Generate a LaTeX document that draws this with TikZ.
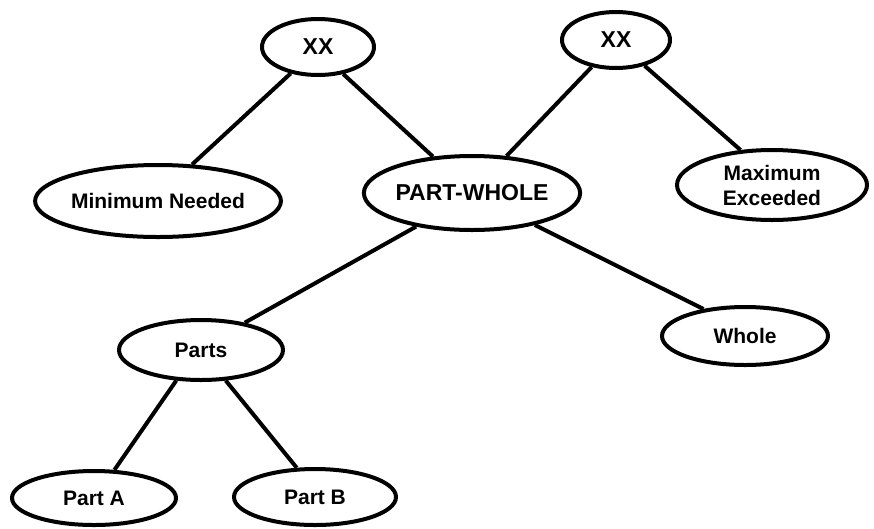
\documentclass[tikz,border=0pt]{standalone}
\usepackage{fontspec}
\setmainfont{Liberation Sans}
\usetikzlibrary{shapes.geometric}
\begin{document}
\begin{tikzpicture}[x=1pt,y=-1pt,
  oval/.style={ellipse,draw,line width=4pt,inner sep=0pt,
    font=\fontsize{21}{25}\selectfont\bfseries,align=center},
  big/.style={font=\fontsize{23}{27}\selectfont\bfseries},
  link/.style={line width=4pt}]
\useasboundingbox (0,0) rectangle (874,528);
\node[oval,big,minimum width=112pt,minimum height=56pt] (xxl) at (318,47) {XX};
\node[oval,big,minimum width=108pt,minimum height=56pt] (xxr) at (616,40) {XX};
\node[oval,minimum width=200pt,minimum height=72pt] (min) at (158,201) {Minimum Needed};
\node[oval,big,minimum width=214pt,minimum height=74pt] (pw) at (472,193) {PART-WHOLE};
\node[oval,minimum width=190pt,minimum height=70pt] (max) at (772,185) {Maximum\\Exceeded};
\node[oval,minimum width=164pt,minimum height=60pt] (parts) at (201,350) {Parts};
\node[oval,minimum width=166pt,minimum height=58pt] (whole) at (745,336) {Whole};
\node[oval,minimum width=164pt,minimum height=54pt] (pa) at (94,498) {Part A};
\node[oval,minimum width=162pt,minimum height=56pt] (pb) at (315,497) {Part B};
\draw[link] (xxl.224) -- (min.47);
\draw[link] (xxl.313) -- (pw.137);
\draw[link] (xxr.228) -- (pw.47);
\draw[link] (xxr.318) -- (max.132);
\draw[link] (pw.211) -- (parts.32);
\draw[link] (pw.333) -- (whole.147);
\draw[link] (parts.231) -- (pa.54);
\draw[link] (parts.309) -- (pb.122);
\end{tikzpicture}
\end{document}
